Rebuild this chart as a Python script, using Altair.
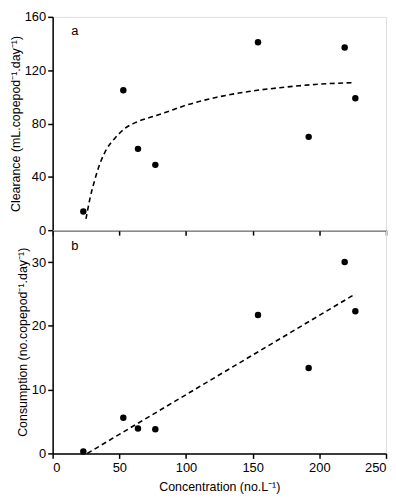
import altair as alt
import pandas as pd

# ---- data ----
conc = [23, 53, 64, 77, 154, 192, 219, 227]
clearance = [14, 105, 61, 49, 141, 70, 137, 99]
consumption = [0.3, 5.6, 3.9, 3.8, 21.7, 13.4, 30.0, 22.3]

# fitted curve (panel a)
curve_x = [25, 28, 31.7, 35.5, 40.4, 46.7, 54.1, 62.7, 72.7, 83.9, 98.7, 122.3, 147, 171.9, 196.7, 226.4]
curve_y = [8.4, 23.8, 38.1, 50, 60.7, 69, 76.2, 81, 84.5, 88, 93.3, 99.5, 104, 107, 109.3, 110.7]

# fitted line (panel b)
line_x = [26, 227]
line_y = [0, 25]

x_ticks = [0, 50, 100, 150, 200, 250]
top_y_ticks = [0, 20, 40, 60, 80, 100, 120, 140, 160]
bot_y_ticks = [0, 5, 10, 15, 20, 25, 30]

panel_labels = ["a", "b"]

FONT = "Liberation Sans"

pts = pd.DataFrame({"conc": conc, "clearance": clearance, "consumption": consumption})
curve = pd.DataFrame({"conc": curve_x, "val": curve_y})
line = pd.DataFrame({"conc": line_x, "val": line_y})
lab_a = pd.DataFrame({"conc": [14], "val": [149.5], "t": [panel_labels[0]]})
lab_b = pd.DataFrame({"conc": [14], "val": [32.5], "t": [panel_labels[1]]})

xscale = alt.Scale(domain=[0, 250], nice=False, zero=False)


def yaxis(title, values, major):
    return alt.Axis(
        title=title,
        values=values,
        labelExpr=f"datum.value % {major} === 0 ? datum.label : ''",
        tickSize={"condition": {"test": f"datum.value % {major} !== 0", "value": 3}, "value": 5},
        grid=False,
        domainColor="black", tickColor="black", labelColor="black", titleColor="black",
        domainWidth=1.5, tickWidth=1.5,
        labelFont=FONT, titleFont=FONT, labelFontSize=13, titleFontSize=12.5,
        titleFontWeight="normal", labelPadding=2, titlePadding=2,
    )


def xaxis(show_labels):
    kw = dict(
        values=x_ticks, grid=False, tickSize=5,
        domainColor="black", tickColor="black", labelColor="black", titleColor="black",
        domainWidth=1.5, tickWidth=1.5,
        labelFont=FONT, titleFont=FONT, labelFontSize=13, titleFontSize=12.5,
        titleFontWeight="normal", labelPadding=3, titlePadding=6,
    )
    if show_labels:
        return alt.Axis(title="Concentration (no.L⁻¹)", **kw)
    return alt.Axis(title=None, labels=False, **kw)


W = 336
DASH = [5, 3.5]

# ---- panel a ----
top_y = alt.Scale(domain=[0, 160], nice=False)
a_pts = alt.Chart(pts).mark_circle(size=42, color="black", opacity=1).encode(
    x=alt.X("conc:Q", scale=xscale, axis=xaxis(False)),
    y=alt.Y("clearance:Q", scale=top_y,
            axis=yaxis("Clearance (mL.copepod⁻¹.day⁻¹)", top_y_ticks, 40)),
)
a_line = alt.Chart(curve).mark_line(color="black", strokeDash=DASH, strokeWidth=1.6,
                                    interpolate="monotone").encode(
    x="conc:Q", y="val:Q"
)
a_txt = alt.Chart(lab_a).mark_text(align="left", baseline="middle", font=FONT, fontSize=13, color="black").encode(
    x="conc:Q", y="val:Q", text="t:N"
)
top = alt.layer(a_line, a_pts, a_txt).properties(width=W, height=215)

# ---- panel b ----
bot_y = alt.Scale(domain=[0, 35], nice=False)
b_pts = alt.Chart(pts).mark_circle(size=42, color="black", opacity=1).encode(
    x=alt.X("conc:Q", scale=xscale, axis=xaxis(True)),
    y=alt.Y("consumption:Q", scale=bot_y,
            axis=yaxis("Consumption (no.copepod⁻¹.day⁻¹)", bot_y_ticks, 10)),
)
b_line = alt.Chart(line).mark_line(color="black", strokeDash=DASH, strokeWidth=1.6).encode(
    x="conc:Q", y="val:Q"
)
b_txt = alt.Chart(lab_b).mark_text(align="left", baseline="middle", font=FONT, fontSize=13, color="black").encode(
    x="conc:Q", y="val:Q", text="t:N"
)
bottom = alt.layer(b_line, b_pts, b_txt).properties(width=W, height=225)

chart = alt.vconcat(top, bottom, spacing=0, bounds="flush").properties(
    padding={"left": 0, "top": 0, "right": 0, "bottom": 0}
).configure_view(stroke="black", strokeWidth=1.5).configure(background="white")

chart.save("out.html", embed_options={"renderer": "svg", "actions": False})
